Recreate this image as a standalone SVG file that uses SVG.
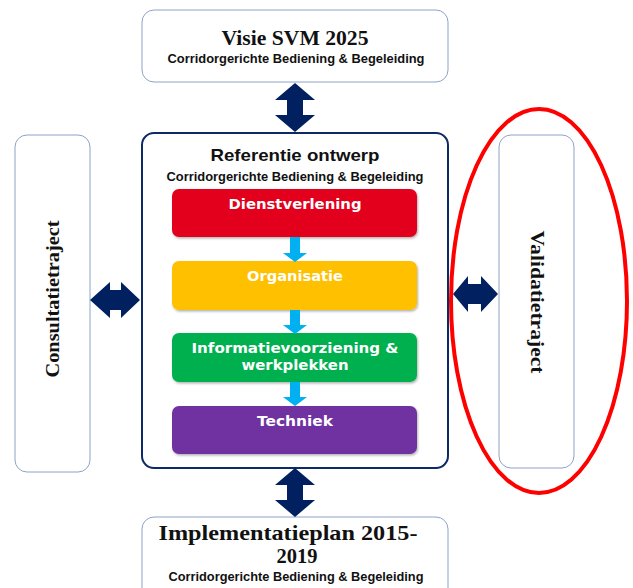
<svg xmlns="http://www.w3.org/2000/svg" width="633" height="588" viewBox="0 0 633 588">
  <defs>
    <style>
      .frame { fill: #ffffff; stroke: #8ea2c8; stroke-width: 1; }
      .main { fill: #ffffff; stroke: #0d2a66; stroke-width: 2; }
      .serif { font-family: "Liberation Serif", "Times New Roman", serif; font-weight: bold; fill: #111111; }
      .sub { font-family: "Liberation Sans", Arial, sans-serif; font-weight: bold; font-size: 12px; fill: #111111; }
      .head { font-family: "Liberation Sans", Arial, sans-serif; font-weight: bold; font-size: 17px; fill: #111111; }
      .layer { font-family: "DejaVu Sans", Verdana, sans-serif; font-weight: bold; font-size: 13.5px; fill: #ffffff; }
      .navy { fill: #002060; }
      .cyan { fill: #00b0f0; }
    </style>
    <filter id="shadow" x="-5%" y="-10%" width="110%" height="130%">
      <feDropShadow dx="1" dy="1.5" stdDeviation="1.2" flood-color="#000000" flood-opacity="0.3"/>
    </filter>
  </defs>

  <!-- Vision -->
  <g id="visie">
    <rect class="frame" x="142" y="10" width="306" height="72" rx="12"/>
    <text class="serif" x="295" y="45" font-size="21" text-anchor="middle" textLength="147" lengthAdjust="spacingAndGlyphs">Visie SVM 2025</text>
    <text class="sub" x="296" y="63" text-anchor="middle" textLength="257" lengthAdjust="spacingAndGlyphs">Corridorgerichte Bediening &amp; Begeleiding</text>
  </g>

  <!-- Reference design -->
  <g id="referentie">
    <rect class="main" x="142" y="133" width="306" height="335" rx="12"/>
    <text class="head" x="295" y="161" text-anchor="middle" textLength="169" lengthAdjust="spacingAndGlyphs">Referentie ontwerp</text>
    <text class="sub" x="295" y="181" text-anchor="middle" textLength="257" lengthAdjust="spacingAndGlyphs">Corridorgerichte Bediening &amp; Begeleiding</text>
  </g>

  <g id="dienstverlening">
    <rect x="172" y="189" width="245" height="48" rx="7" fill="#e2001a" filter="url(#shadow)"/>
    <text class="layer" x="295" y="209" text-anchor="middle" textLength="133" lengthAdjust="spacingAndGlyphs">Dienstverlening</text>
  </g>

  <g id="organisatie">
    <rect x="172" y="261" width="245" height="49" rx="7" fill="#ffc000" filter="url(#shadow)"/>
    <text class="layer" x="295" y="281" text-anchor="middle" textLength="96" lengthAdjust="spacingAndGlyphs">Organisatie</text>
  </g>

  <g id="informatievoorziening">
    <rect x="172" y="333" width="245" height="49" rx="7" fill="#00b050" filter="url(#shadow)"/>
    <text class="layer" x="295" y="353" text-anchor="middle" textLength="207" lengthAdjust="spacingAndGlyphs">Informatievoorziening &amp;</text>
    <text class="layer" x="295" y="370" text-anchor="middle" textLength="107" lengthAdjust="spacingAndGlyphs">werkplekken</text>
  </g>

  <g id="techniek">
    <rect x="172" y="406" width="245" height="48" rx="7" fill="#7030a0" filter="url(#shadow)"/>
    <text class="layer" x="295" y="426" text-anchor="middle" textLength="76" lengthAdjust="spacingAndGlyphs">Techniek</text>
  </g>

  <!-- Implementation plan -->
  <g id="implementatieplan">
    <rect class="frame" x="142" y="517" width="306" height="90" rx="12"/>
    <text class="serif" x="288" y="540" font-size="22" text-anchor="middle" textLength="259" lengthAdjust="spacingAndGlyphs">Implementatieplan 2015-</text>
    <text class="serif" x="297" y="563" font-size="22" text-anchor="middle" textLength="41" lengthAdjust="spacingAndGlyphs">2019</text>
    <text class="sub" x="296" y="581" text-anchor="middle" textLength="255" lengthAdjust="spacingAndGlyphs">Corridorgerichte Bediening &amp; Begeleiding</text>
  </g>

  <!-- Consultation track -->
  <g id="consultatietraject">
    <rect class="frame" x="15" y="135" width="75" height="337" rx="12"/>
    <text class="serif" transform="translate(59,299) rotate(-90)" x="0" y="0" font-size="19" text-anchor="middle" textLength="157" lengthAdjust="spacingAndGlyphs">Consultatietraject</text>
  </g>

  <!-- Validation track -->
  <g id="validatietraject">
    <rect class="frame" x="499" y="135" width="75" height="333" rx="12"/>
    <text class="serif" transform="translate(531,302) rotate(90)" x="0" y="0" font-size="18" text-anchor="middle" textLength="143" lengthAdjust="spacingAndGlyphs">Validatietraject</text>
  </g>

  <!-- Connectors -->
  <g id="connectors">
    <!-- vertical double arrow: vision <-> reference design -->
    <polygon class="navy" points="295,83 315,100 303,100 303,115 315,115 295,132 275,115 287,115 287,100 275,100"/>
    <!-- vertical double arrow: reference design <-> implementation plan -->
    <polygon class="navy" points="295,468 315,485 303,485 303,500 315,500 295,517 275,500 287,500 287,485 275,485"/>
    <!-- horizontal double arrow: consultation <-> reference design -->
    <polygon class="navy" points="90,300 110,282 110,290 121,290 121,282 140,300 121,318 121,310 110,310 110,318"/>
    <!-- horizontal double arrow: reference design <-> validation -->
    <polygon class="navy" points="453,294 468,276 468,284 481,284 481,276 498,294 481,312 481,304 468,304 468,312"/>
    <!-- layer flow arrows -->
    <polygon class="cyan" points="290,237 300,237 300,253 307,253 295,262 283,253 290,253"/>
    <polygon class="cyan" points="290,310 300,310 300,325 307,325 295,334 283,325 290,325"/>
    <polygon class="cyan" points="290,382 300,382 300,397 307,397 295,406 283,397 290,397"/>
  </g>

  <!-- Highlight around the validation track -->
  <ellipse cx="539" cy="301" rx="88" ry="192" fill="none" stroke="#ff0000" stroke-width="4"/>
</svg>
